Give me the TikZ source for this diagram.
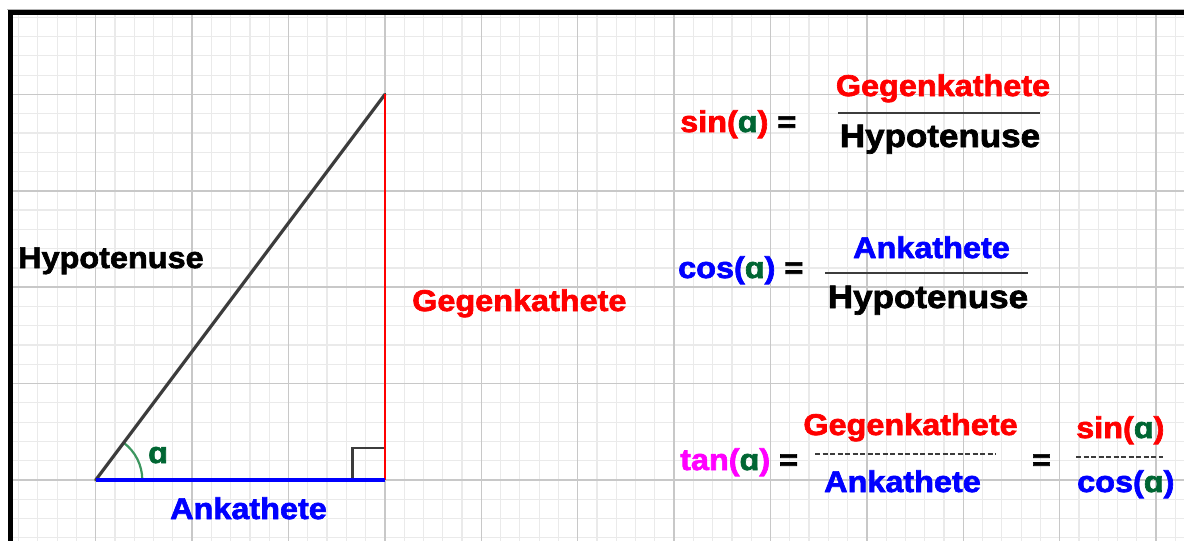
\documentclass[tikz,border=0pt]{standalone}
\usepackage{fontspec}
\setmainfont{Liberation Sans}[FakeStretch=1.08, BoldFeatures={FakeBold=2.2}]
\definecolor{gmin}{RGB}{234,234,234}
\definecolor{gmaj}{RGB}{200,200,200}
\definecolor{agreen}{RGB}{0,102,51}
\definecolor{arcgreen}{RGB}{60,150,95}
\definecolor{hyp}{RGB}{60,60,60}
\definecolor{mag}{RGB}{255,0,255}
\tikzset{
  lbl/.style={inner sep=0pt, font=\bfseries\fontsize{30}{36}\selectfont},
  lblbig/.style={inner sep=0pt, font=\bfseries\fontsize{32.4}{38}\selectfont},
  fracrule/.style={line width=1.8pt, draw=hyp},
  dashrule/.style={line width=1.8pt, draw=hyp, dash pattern=on 5pt off 2.5pt},
}
\newcommand{\al}{\textcolor{agreen}{ɑ}}
\begin{document}
\begin{tikzpicture}[x=1pt,y=-1pt]
\useasboundingbox (0,0) rectangle (1184,541);
\fill[white] (0,0) rectangle (1184,541);
% grid
\begin{scope}
\clip (10,12.5) rectangle (1184,541);
\foreach \i in {-5,...,56} {
  \draw[gmin, line width=1.2pt] ({95.7+\i*19.28},0) -- ({95.7+\i*19.28},541);
}
\foreach \j in {-5,...,24} {
  \draw[gmin, line width=1.2pt] (0,{480+\j*19.28-19.28*20}) -- (1184,{480+\j*19.28-19.28*20});
}
\foreach \i in {-1,...,11} {
  \draw[gmaj, line width=1.5pt] ({95.7+\i*96.4},0) -- ({95.7+\i*96.4},541);
}
\foreach \j in {-5,...,1} {
  \draw[gmaj, line width=1.5pt] (0,{480+\j*96.4}) -- (1184,{480+\j*96.4});
}
\end{scope}
% frame
\draw[gray!60, line width=1pt] (7,9.5) -- (1184,9.5);
\draw[black, line width=5pt] (10,541) -- (10,12.5) -- (1184,12.5);
% triangle
\coordinate (A) at (95.7,480);
\coordinate (B) at (384.9,480);
\coordinate (C) at (384.9,94.4);
\draw[hyp, line width=2.5pt] (352.5,480) -- (352.5,448) -- (384.9,448);
\draw[arcgreen, line width=2.2pt] ([xshift=46.6pt]A) arc[start angle=0, end angle=53.13, radius=46.6pt];
\draw[hyp, line width=3.2pt, line cap=round] (A) -- (C);
\draw[red, line width=2.5pt] (B) -- (C);
\draw[blue, line width=3.2pt] (A) -- (B);
\node[lbl, text=agreen, anchor=base west] (alpha) at (148,463) {ɑ};
\node[lbl, anchor=base west] (hyplbl) at (18,268) {Hypotenuse};
\node[lbl, text=red, anchor=base west] (geglbl) at (412,311) {Gegenkathete};
\node[lbl, text=blue, anchor=base west] (anklbl) at (170,519) {Ankathete};
% sin
\node[lbl, anchor=base west] (sinlhs) at (680,132) {\textcolor{red}{sin(}\al\textcolor{red}{)} =};
\node[lbl, text=red, anchor=base] (sinnum) at (943,96) {Gegenkathete};
\coordinate (sr1) at (838,113); \coordinate (sr2) at (1040,113);
\draw[fracrule] (sr1) -- (sr2);
\node[lblbig, anchor=base] (sinden) at (940,147) {Hypotenuse};
% cos
\node[lbl, anchor=base west] (coslhs) at (678,278) {\textcolor{blue}{cos(}\al\textcolor{blue}{)} =};
\node[lbl, text=blue, anchor=base] (cosnum) at (931.5,258) {Ankathete};
\coordinate (cr1) at (825,273); \coordinate (cr2) at (1028,273);
\draw[fracrule] (cr1) -- (cr2);
\node[lblbig, anchor=base] (cosden) at (928,308) {Hypotenuse};
% tan
\node[lbl, anchor=base west] (tanlhs) at (680,470) {\textcolor{mag}{tan(}\al\textcolor{mag}{)} =};
\node[lbl, text=red, anchor=base] (tannum) at (910.5,435) {Gegenkathete};
\coordinate (tr1) at (815,454); \coordinate (tr2) at (996,454);
\draw[dashrule] (tr1) -- (tr2);
\node[lbl, text=blue, anchor=base] (tanden) at (902.5,492) {Ankathete};
\node[lbl, anchor=base] (eq2) at (1041.5,470) {=};
\node[lbl, anchor=base west] (sinr) at (1076,438) {\textcolor{red}{sin(}\al\textcolor{red}{)}};
\coordinate (qr1) at (1076,457); \coordinate (qr2) at (1163,457);
\draw[dashrule] (qr1) -- (qr2);
\node[lbl, anchor=base west] (cosr) at (1077,492) {\textcolor{blue}{cos(}\al\textcolor{blue}{)}};
\end{tikzpicture}
\end{document}
